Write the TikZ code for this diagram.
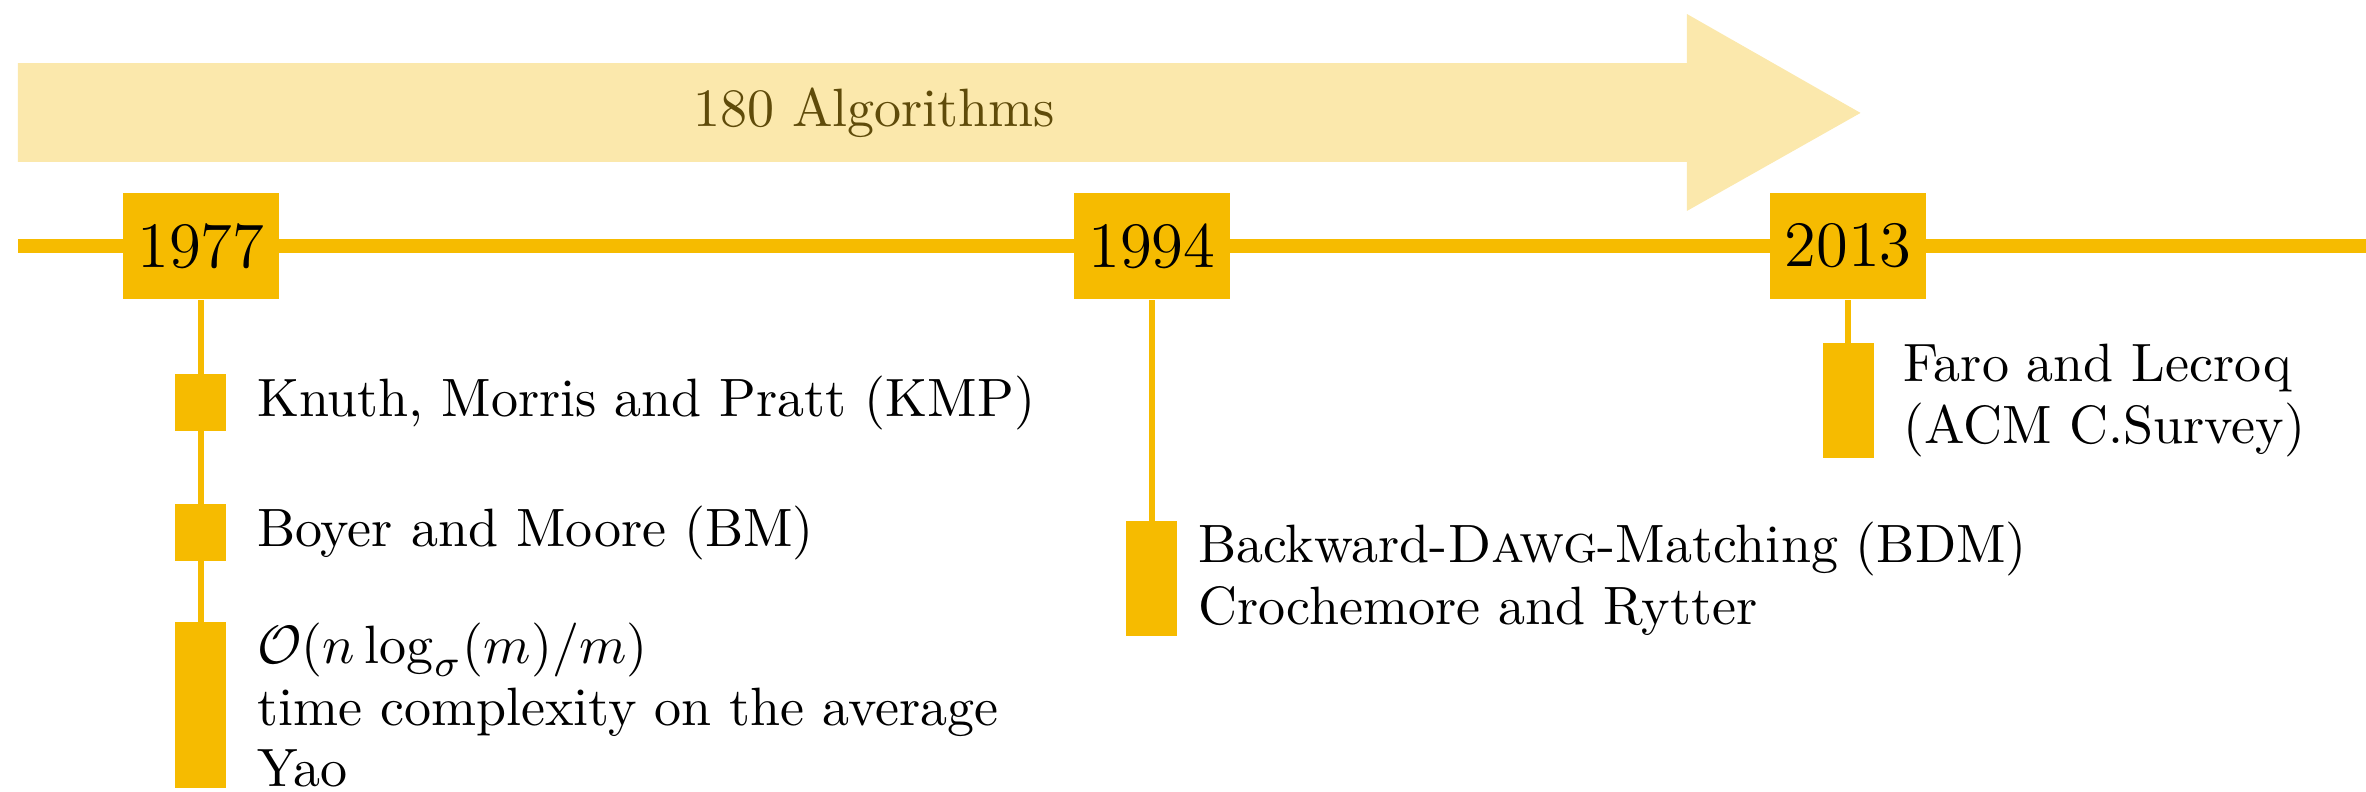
\documentclass[tikz,border=0pt]{standalone}
\usepackage{amsmath,amssymb}
\usepackage{tikz}
\usetikzlibrary{fit,calc}
\definecolor{tlyellow}{RGB}{246,187,0}
\definecolor{tlpale}{RGB}{251,232,172}
\definecolor{tlbrown}{RGB}{95,75,10}

\begin{document}
\begin{tikzpicture}[
    yearbox/.style={fill=tlyellow,minimum width=1.016cm,minimum height=0.69cm,inner sep=0pt,font=\large},
    evtext/.style={inner sep=0pt,align=left,font=\linespread{0.95}\selectfont},
    evbar/.style={fill=tlyellow,inner xsep=0.166cm,inner ysep=0pt},
    stem/.style={tlyellow,line width=1.1pt}]
        \useasboundingbox (0,0) rectangle (15.40,5.149);
        \fill[tlpale] (0.117,4.095) -- (10.98,4.095) -- (10.98,3.776) -- (12.11,4.414)
            -- (10.98,5.058) -- (10.98,4.739) -- (0.117,4.739) -- cycle;
        \node[text=tlbrown] (algs) at (5.69,4.414) {180 Algorithms};
        \coordinate (tlstart) at (0.117,3.548);
        \coordinate (tlend) at (15.5,3.548);
        \draw[tlyellow,line width=2.6pt] (tlstart) -- (tlend);
        \node[yearbox] (y77) at (1.308,3.548) {1977};
        \node[yearbox] (y94) at (7.498,3.548) {1994};
        \node[yearbox] (y13) at (12.029,3.548) {2013};
        \node[evtext,anchor=west] (kmp) at (1.667,2.529) {Knuth, Morris and Pratt (KMP)};
        \node[evtext,anchor=west] (bm) at (1.667,1.683) {Boyer and Moore (BM)};
        \node[evtext,anchor=north west] (yao) at (1.667,1.100) {$\mathcal{O}(n\log_\sigma(m)/m)$\\time complexity on the average\\Yao};
        \node[evtext,anchor=north west] (bdm) at (7.791,1.757) {Backward-\textsc{Dawg}-Matching (BDM)\\Crochemore and Rytter};
        \node[evtext,anchor=north west] (faro) at (12.380,2.915) {Faro and Lecroq\\(ACM C.Survey)};
        \draw[stem] (y77.south) -- (yao.north -| y77.south);
        \draw[stem] (y94.south) -- (bdm.north -| y94.south);
        \draw[stem] (y13.south) -- (faro.north -| y13.south);
        \node[evbar,fit=(kmp.north -| y77.south)(kmp.south -| y77.south)] (kmpbar) {};
        \node[evbar,fit=(bm.north -| y77.south)(bm.south -| y77.south)] (bmbar) {};
        \node[evbar,fit=(yao.north -| y77.south)(yao.south -| y77.south)] (yaobar) {};
        \node[evbar,fit=(bdm.north -| y94.south)(bdm.south -| y94.south)] (bdmbar) {};
        \node[evbar,fit=(faro.north -| y13.south)(faro.south -| y13.south)] (farobar) {};
\end{tikzpicture}
\end{document}
